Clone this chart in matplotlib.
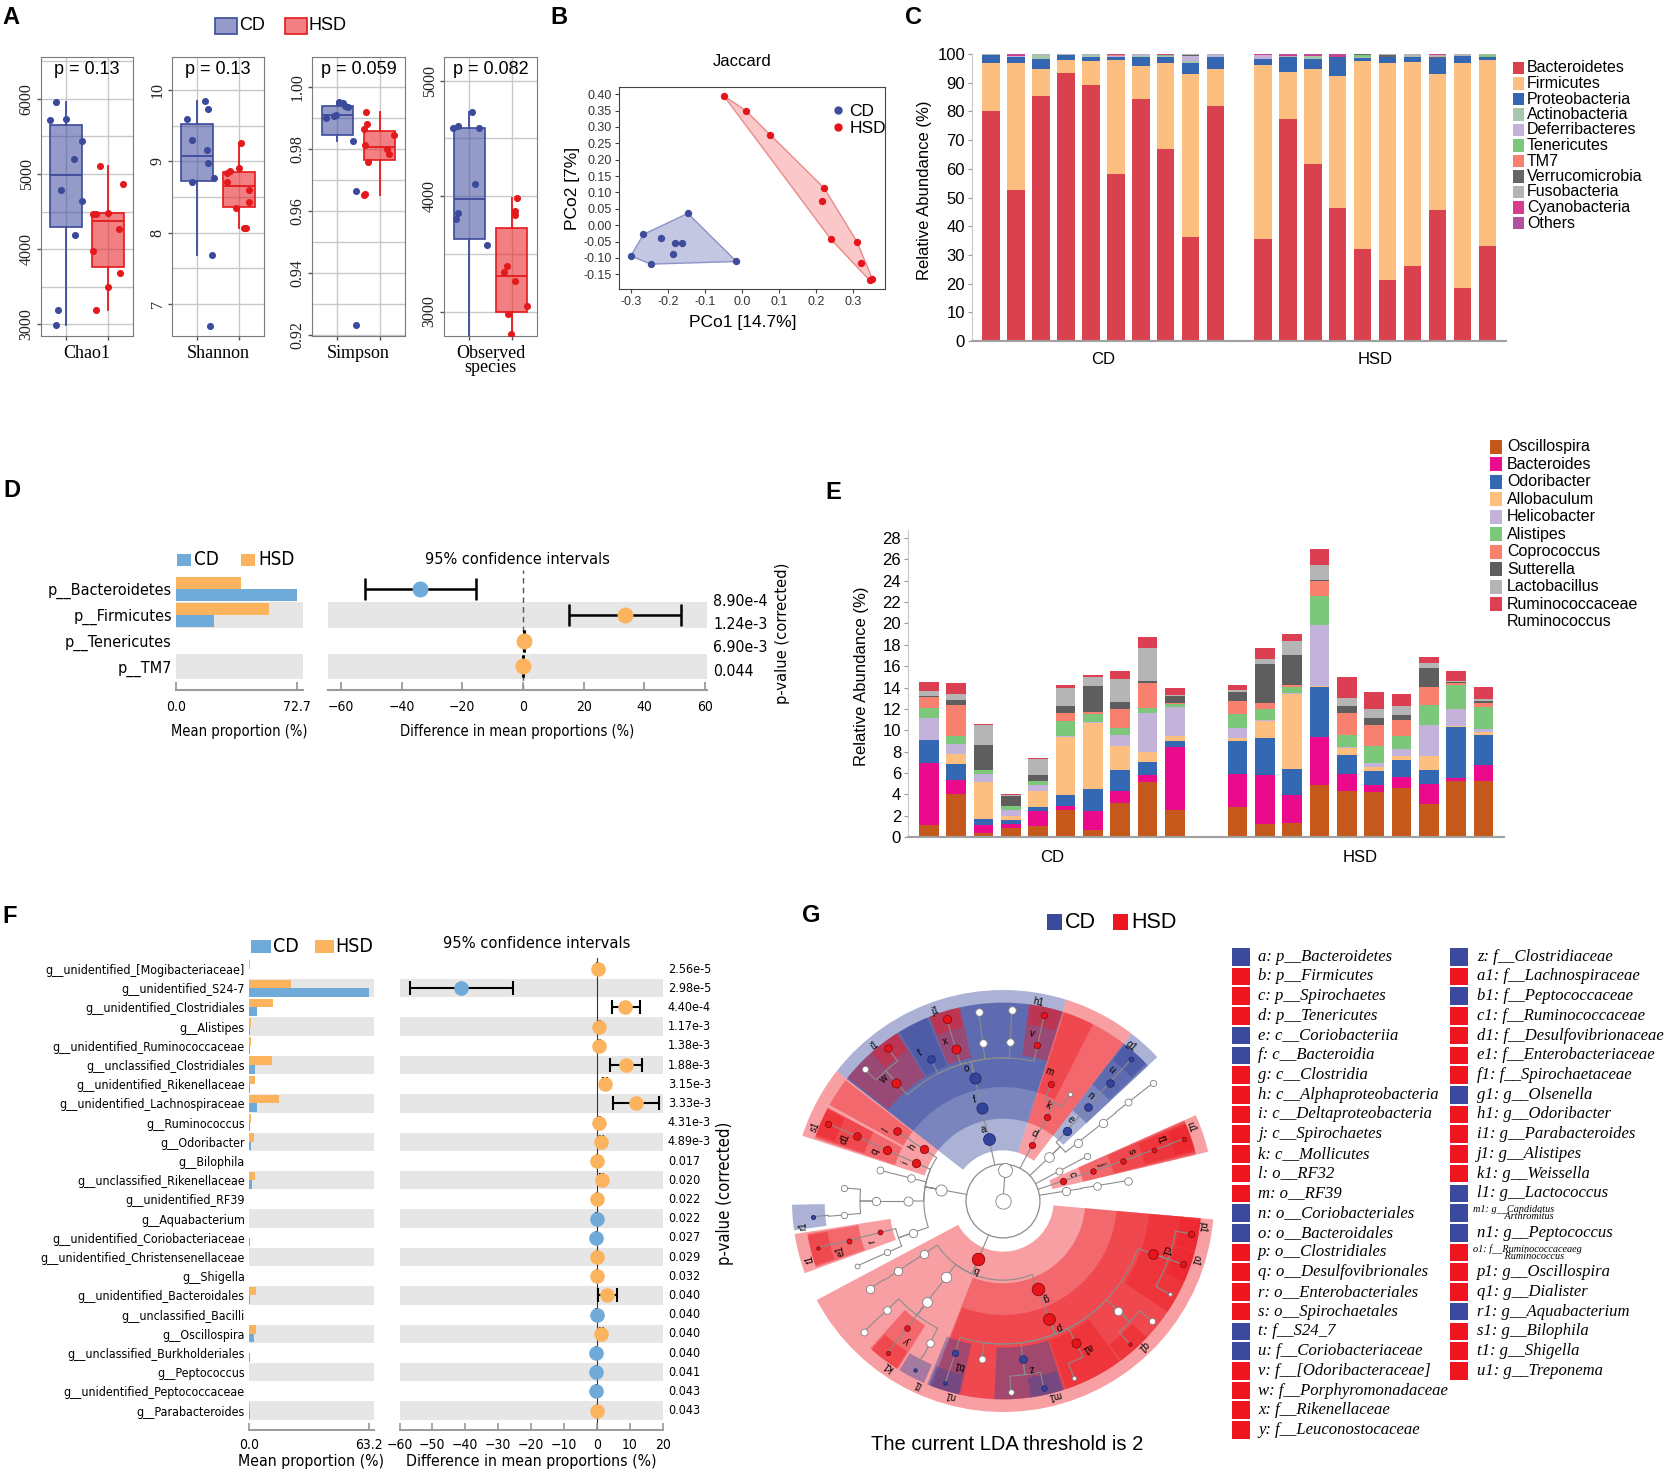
import numpy as np
import matplotlib
matplotlib.use('Agg')
import matplotlib.pyplot as plt
from matplotlib.patches import Rectangle, Wedge, Circle, Polygon
from matplotlib.lines import Line2D
from matplotlib.ticker import MultipleLocator, FuncFormatter
from matplotlib.transforms import blended_transform_factory
from matplotlib.colors import to_rgba
from matplotlib import font_manager as fm

plt.rcParams['axes.unicode_minus'] = False

# ---------------------------------------------------------------- data
# A: alpha diversity
alpha_metrics = ['Chao1', 'Shannon', 'Simpson', 'Observed\nspecies']
alpha_pvalues = ['p = 0.13', 'p = 0.13', 'p = 0.059', 'p = 0.082']
chao1_cd = [5723, 5964, 5732, 5442, 5196, 4786, 4647, 4183, 3188, 2987]
chao1_cd_jit = [-0.39, -0.24, 0.0, 0.39, 0.20, -0.11, 0.39, 0.22, -0.19, -0.24]
chao1_hsd = [4473, 4473, 4482, 5107, 4862, 4268, 3969, 3688, 3491, 3196]
chao1_hsd_jit = [-0.35, -0.28, 0.0, -0.19, 0.35, 0.26, -0.35, 0.29, 0.0, -0.28]
shannon_cd = [9.59, 9.84, 9.73, 9.30, 9.16, 8.98, 8.76, 8.71, 7.69, 6.69]
shannon_cd_jit = [-0.24, 0.19, 0.26, -0.11, 0.23, 0.26, 0.41, -0.11, 0.35, 0.32]
shannon_hsd = [8.84, 8.71, 8.86, 8.90, 9.25, 8.59, 8.43, 8.34, 8.06, 8.06]
shannon_hsd_jit = [-0.29, -0.29, -0.22, 0.0, 0.06, 0.23, 0.23, -0.06, 0.11, 0.17]
simpson_cd = [0.9953, 0.9948, 0.9940, 0.9935, 0.9912, 0.9906, 0.9902, 0.9827, 0.9664, 0.9230]
simpson_cd_jit = [0.04, 0.13, 0.19, 0.24, -0.04, -0.09, -0.28, 0.37, 0.43, 0.43]
simpson_hsd = [0.9919, 0.9881, 0.9864, 0.9845, 0.9815, 0.9800, 0.9785, 0.9758, 0.9655, 0.9652]
simpson_hsd_jit = [-0.33, -0.30, -0.37, 0.33, -0.35, 0.17, 0.23, -0.28, -0.35, -0.37]
observed_cd = [4594, 4604, 4727, 4594, 4101, 3856, 3802, 3576, 2662, 2327]
observed_cd_jit = [-0.39, -0.26, 0.07, 0.22, 0.13, -0.28, -0.32, 0.41, -0.32, 0.30]
observed_hsd = [3982, 3874, 3838, 3396, 3345, 3263, 3047, 2975, 2802, 2561]
observed_hsd_jit = [0.13, 0.09, 0.09, -0.12, -0.19, 0.09, 0.36, -0.09, -0.02, 0.37]

# B: PCoA (Jaccard)
pcoa_cd_x = [-0.300, -0.266, -0.246, -0.218, -0.186, -0.180, -0.163, -0.146, -0.015]
pcoa_cd_y = [-0.094, -0.028, -0.119, -0.039, -0.088, -0.055, -0.056, 0.036, -0.111]
pcoa_hsd_x = [-0.049, 0.010, 0.075, 0.222, 0.215, 0.240, 0.310, 0.320, 0.345, 0.352]
pcoa_hsd_y = [0.395, 0.350, 0.275, 0.113, 0.074, -0.043, -0.050, -0.117, -0.169, -0.165]

# C: phylum relative abundance (10 CD samples, then 10 HSD samples)
phyla_names = ['Bacteroidetes', 'Firmicutes', 'Proteobacteria', 'Actinobacteria', 'Deferribacteres',
               'Tenericutes', 'TM7', 'Verrucomicrobia', 'Fusobacteria', 'Cyanobacteria', 'Others']
c_bacteroidetes = [80.2, 52.5, 85.4, 93.4, 89.3, 58.2, 84.4, 66.9, 36.1, 81.8,
                   35.4, 77.2, 61.7, 46.2, 31.9, 21.2, 26.2, 45.7, 18.3, 33.1]
c_firmicutes = [16.7, 44.4, 9.4, 4.6, 8.3, 39.8, 11.5, 30.0, 57.0, 13.1,
                60.6, 16.7, 33.2, 46.3, 65.5, 75.8, 71.1, 47.5, 78.4, 64.8]
c_proteobacteria = [2.6, 1.9, 3.5, 1.5, 1.4, 1.0, 3.1, 2.1, 3.8, 3.9,
                    2.4, 5.2, 3.5, 6.6, 1.1, 2.1, 1.7, 5.5, 2.6, 1.1]
c_actinobacteria = [0.3, 0.3, 1.2, 0.3, 0.6, 0.0, 0.3, 0.2, 0.6, 0.0,
                    0.0, 0.0, 1.0, 0.0, 0.6, 0.0, 0.0, 0.0, 0.0, 0.0]
c_deferribacteres = [0.0, 0.2, 0.3, 0.0, 0.2, 0.3, 0.5, 0.0, 1.9, 0.8,
                     1.3, 0.0, 0.0, 0.0, 0.0, 0.0, 0.0, 0.0, 0.0, 0.0]
c_tenericutes = [0, 0, 0, 0, 0, 0, 0, 0.4, 0, 0, 0, 0, 0, 0, 0.5, 0, 0, 0, 0, 0.5]
c_tm7 = [0, 0, 0, 0, 0, 0.3, 0, 0, 0, 0, 0, 0, 0, 0, 0, 0, 0, 0, 0, 0]
c_verrucomicrobia = [0, 0, 0, 0, 0, 0, 0, 0, 0.4, 0, 0, 0, 0, 0, 0.4, 0.4, 0, 0.3, 0, 0]
c_fusobacteria = [0.2, 0, 0.2, 0.2, 0.2, 0, 0.2, 0, 0.2, 0.3, 0, 0.3, 0, 0, 0, 0.5, 1.0, 0.6, 0.7, 0.5]
c_cyanobacteria = [0, 0.5, 0, 0, 0, 0.2, 0, 0.3, 0, 0, 0.3, 0.4, 0.3, 0.5, 0, 0, 0, 0.4, 0, 0]
c_others = [0, 0.2, 0, 0, 0, 0.2, 0, 0.1, 0, 0.1, 0, 0.2, 0.3, 0.4, 0, 0, 0, 0, 0, 0]
phyla_colors = ['#D9414E', '#FDBF80', '#3566B1', '#A8C5AE', '#C3B3DA', '#7CC77A',
                '#F8806E', '#666666', '#B3B3B3', '#D73C8C', '#B4519E']

# E: genus relative abundance
genus_names = ['Oscillospira', 'Bacteroides', 'Odoribacter', 'Allobaculum', 'Helicobacter', 'Alistipes',
               'Coprococcus', 'Sutterella', 'Lactobacillus', 'Ruminococcaceae\nRuminococcus']
e_oscillospira = [1.15, 4.06, 0.37, 0.84, 1.06, 2.50, 0.69, 3.18, 5.12, 2.50,
                  2.78, 1.25, 1.31, 4.87, 4.34, 4.24, 4.59, 3.12, 5.21, 5.21]
e_bacteroides = [5.78, 1.31, 0.78, 0.41, 1.41, 0.43, 1.71, 1.10, 0.65, 5.93,
                 3.15, 4.56, 2.59, 4.46, 1.56, 0.60, 1.00, 1.87, 0.31, 1.56]
e_odoribacter = [2.12, 1.50, 0.57, 0.37, 0.31, 1.03, 2.09, 2.02, 1.25, 0.59,
                 3.09, 3.46, 2.50, 4.68, 1.75, 1.37, 1.65, 1.25, 4.78, 2.75]
e_allobaculum = [0.05, 0.87, 3.43, 0.38, 1.50, 5.40, 6.18, 2.25, 0.97, 0.47,
                 0.25, 1.56, 7.02, 0.16, 0.68, 0.31, 0.31, 1.31, 0.06, 0.31]
e_helicobacter = [2.09, 1.00, 0.78, 0.56, 0.62, 0.07, 0.07, 1.03, 3.62, 2.68,
                  0.94, 0.16, 0.06, 5.65, 0.10, 0.41, 0.69, 2.97, 1.66, 0.28]
e_alistipes = [0.91, 0.75, 0.31, 0.31, 0.31, 1.40, 0.81, 0.59, 0.50, 0.31,
               1.34, 1.03, 0.53, 2.78, 1.15, 1.62, 1.25, 1.87, 2.18, 2.06]
e_coprococcus = [1.00, 2.84, 0.06, 0.06, 0.06, 0.78, 0.19, 1.82, 2.31, 0.07,
                 1.15, 0.53, 0.25, 1.34, 2.03, 1.94, 1.50, 1.65, 0.22, 0.38]
e_sutterella = [0.12, 0.47, 2.35, 0.94, 0.57, 0.69, 2.37, 0.62, 0.19, 0.62,
                0.85, 3.65, 2.81, 0.16, 0.69, 0.65, 0.46, 1.78, 0.06, 0.15]
e_lactobacillus = [0.50, 0.62, 1.81, 0.09, 1.46, 1.65, 0.87, 2.18, 3.09, 0.13,
                   0.18, 0.47, 1.25, 1.34, 0.68, 0.85, 0.78, 0.47, 0.10, 0.22]
e_ruminococcus = [0.84, 1.00, 0.15, 0.04, 0.10, 0.31, 0.16, 0.78, 1.03, 0.65,
                  0.53, 1.00, 0.66, 1.56, 1.97, 1.62, 1.16, 0.56, 0.93, 1.12]
genus_colors = ['#C5581B', '#EC0A8C', '#3568B3', '#FDBF80', '#C3B3DA', '#7CC77A',
                '#F8806E', '#5E5E5E', '#B5B5B5', '#DC3F52']

# D: phylum-level STAMP
d_taxa = ['p__Bacteroidetes', 'p__Firmicutes', 'p__Tenericutes', 'p__TM7']
d_cd_mean = [72.7, 23.2, 0.1, 0.02]
d_hsd_mean = [39.3, 56.3, 0.3, 0.1]
d_diff = [-34.0, 33.5, 0.3, 0.1]
d_ci_low = [-52.0, 15.3, 0.3, 0.1]
d_ci_high = [-15.5, 52.0, 0.3, 0.1]
d_pvalues = ['8.90e-4', '1.24e-3', '6.90e-3', '0.044']

# F: genus-level STAMP
f_taxa = ['g__unidentified_[Mogibacteriaceae]', 'g__unidentified_S24-7', 'g__unidentified_Clostridiales',
          'g__Alistipes', 'g__unidentified_Ruminococcaceae', 'g__unclassified_Clostridiales',
          'g__unidentified_Rikenellaceae', 'g__unidentified_Lachnospiraceae', 'g__Ruminococcus',
          'g__Odoribacter', 'g__Bilophila', 'g__unclassified_Rikenellaceae', 'g__unidentified_RF39',
          'g__Aquabacterium', 'g__unidentified_Coriobacteriaceae', 'g__unidentified_Christensenellaceae',
          'g__Shigella', 'g__unidentified_Bacteroidales', 'g__unclassified_Bacilli', 'g__Oscillospira',
          'g__unclassified_Burkholderiales', 'g__Peptococcus', 'g__unidentified_Peptococcaceae',
          'g__Parabacteroides']
f_cd_mean = [0.1, 63.2, 4.0, 0.5, 0.5, 3.2, 0.7, 4.0, 0.3, 1.2, 0.05, 1.5, 0.1, 0.05, 0.4, 0.1,
             0.02, 0.3, 0.1, 2.5, 0.3, 0.1, 0.1, 0.4]
f_hsd_mean = [0.5, 22.0, 12.7, 1.2, 1.1, 12.0, 3.2, 16.0, 0.9, 2.6, 0.2, 3.0, 0.2, 0.0, 0.1, 0.2,
              0.1, 3.5, 0.05, 3.8, 0.05, 0.02, 0.05, 0.5]
f_diff = [0.3, -41.3, 8.6, 0.7, 0.6, 8.9, 2.5, 11.8, 0.6, 1.4, 0.1, 1.5, 0.1, -0.05, -0.2, 0.1,
          0.1, 3.2, -0.05, 1.4, -0.2, -0.1, -0.1, 0.1]
f_ci_low = [0.1, -56.8, 4.6, 0.4, 0.3, 4.0, 2.0, 5.0, 0.3, 1.0, 0.05, 1.0, 0.05, -0.1, -0.3, 0.05,
            0.05, 0.3, -0.1, 0.9, -0.3, -0.15, -0.15, 0.05]
f_ci_high = [0.5, -25.6, 13.0, 1.0, 0.9, 13.7, 3.0, 19.0, 0.9, 1.8, 0.15, 2.0, 0.15, 0.0, -0.1, 0.15,
             0.15, 6.0, 0.0, 1.9, -0.1, -0.05, -0.05, 0.15]
f_pvalues = ['2.56e-5', '2.98e-5', '4.40e-4', '1.17e-3', '1.38e-3', '1.88e-3', '3.15e-3', '3.33e-3',
             '4.31e-3', '4.89e-3', '0.017', '0.020', '0.022', '0.022', '0.027', '0.029', '0.032',
             '0.040', '0.040', '0.040', '0.040', '0.041', '0.043', '0.043']

# G: LEfSe cladogram  (id, parent, level, angle_deg, enriched_group, letter, node_size)
clade_nodes = [
    ('root', None, 0, 90.0, None, '', 11),
    ('bacteria', 'root', 0.5, 86.0, None, '', 10),
    ('a', 'root', 1, 102.8, 'CD', 'a', 8.5), ('d', 'root', 1, 62.5, 'HSD', 'd', 4.5),
    ('act', 'root', 1, 43.5, None, '', 7), ('px', 'root', 1, 28.0, None, '', 5),
    ('c', 'root', 1, 18.5, 'HSD', 'c', 4.5), ('verr', 'root', 1, 9.0, None, '', 6),
    ('prot', 'root', 1, 169.7, None, '', 8), ('b', 'root', 1, 247.0, 'HSD', 'b', 9),
    ('f', 'a', 2, 103.0, 'CD', 'f', 8), ('k', 'd', 2, 62.4, 'HSD', 'k', 4.5),
    ('e', 'act', 2, 47.8, 'CD', 'e', 6), ('act2', 'act', 2, 38.0, None, '', 6),
    ('px2', 'px', 2, 28.0, None, '', 4.5), ('j', 'c', 2, 18.5, 'HSD', 'j', 4),
    ('verr2', 'verr', 2, 9.3, None, '', 5.5), ('h', 'prot', 2, 146.8, 'HSD', 'h', 6),
    ('i', 'prot', 2, 156.4, 'HSD', 'i', 6), ('prot3', 'prot', 2, 166.0, None, '', 5.5),
    ('beta', 'prot', 2, 180.0, None, '', 6.5), ('gamma', 'prot', 2, 199.4, None, '', 6),
    ('erys', 'b', 2, 213.8, None, '', 6), ('bacilli', 'b', 2, 233.2, None, '', 7.5),
    ('g', 'b', 2, 291.6, 'HSD', 'g', 9),
    ('o', 'f', 3, 102.9, 'CD', 'o', 8), ('m', 'k', 3, 67.6, 'HSD', 'm', 4.5),
    ('mol2', 'k', 3, 58.0, None, '', 3), ('n', 'e', 3, 48.0, 'CD', 'n', 5.5),
    ('act3', 'act2', 3, 38.0, None, '', 6), ('s', 'j', 3, 18.5, 'HSD', 's', 4),
    ('verr3', 'verr2', 3, 9.3, None, '', 5.5), ('l', 'h', 3, 146.5, 'HSD', 'l', 5.5),
    ('q', 'i', 3, 156.4, 'HSD', 'q', 6), ('prot4', 'prot3', 3, 166.0, None, '', 5),
    ('burk', 'beta', 3, 180.0, None, '', 6), ('r', 'gamma', 3, 194.4, 'HSD', 'r', 3.5),
    ('pseu', 'gamma', 3, 204.0, None, '', 4.5), ('erys3', 'erys', 3, 213.7, None, '', 6),
    ('lacto', 'bacilli', 3, 233.0, None, '', 7), ('p', 'g', 3, 291.5, 'HSD', 'p', 8.5),
    ('w', 'o', 4, 132.0, 'HSD', 'w', 6.5), ('t', 'o', 4, 117.0, 'CD', 't', 5.5),
    ('x', 'o', 4, 107.2, 'HSD', 'x', 6.5), ('bf4', 'o', 4, 97.3, None, '', 5.5),
    ('bf5', 'o', 4, 87.4, None, '', 5.5), ('v', 'o', 4, 77.5, 'HSD', 'v', 4.5),
    ('u', 'n', 4, 48.0, 'CD', 'u', 5.5), ('act4', 'act3', 4, 38.2, None, '', 5),
    ('f1', 's', 4, 18.7, 'HSD', 'f1', 3.5), ('d1', 'q', 4, 156.1, 'HSD', 'd1', 5.5),
    ('alc', 'burk', 4, 175.3, None, '', 4.5), ('coma', 'burk', 4, 185.0, None, '', 4.5),
    ('e1', 'r', 4, 194.4, 'HSD', 'e1', 3.5), ('pse4', 'pseu', 4, 204.0, None, '', 3.5),
    ('erys4', 'erys3', 4, 213.4, None, '', 6), ('lactob', 'lacto', 4, 223.2, None, '', 5.5),
    ('y', 'lacto', 4, 232.9, 'HSD', 'y', 4), ('strep', 'lacto', 4, 242.8, None, '', 5.5),
    ('b1', 'p', 4, 252.5, 'CD', 'b1', 4.5), ('clo2', 'p', 4, 262.4, None, '', 5),
    ('z', 'p', 4, 277.2, 'CD', 'z', 5.5), ('a1', 'p', 4, 297.2, 'HSD', 'a1', 6.5),
    ('veil', 'p', 4, 316.4, None, '', 6), ('c1', 'p', 4, 340.6, 'HSD', 'c1', 7),
    ('i1', 'w', 5, 127.0, 'HSD', 'i1', 5.5), ('w2', 'w', 5, 136.4, None, '', 4.5),
    ('j1', 'x', 5, 107.2, 'HSD', 'j1', 6), ('bg4', 'bf4', 5, 97.3, None, '', 5.5),
    ('bg5', 'bf5', 5, 87.4, None, '', 5.5), ('h1', 'v', 5, 77.5, 'HSD', 'h1', 4.5),
    ('g1', 'u', 5, 47.9, 'CD', 'g1', 3.5), ('act5', 'act4', 5, 38.2, None, '', 4.5),
    ('u1', 'f1', 5, 18.9, 'HSD', 'u1', 3), ('s1', 'd1', 5, 156.1, 'HSD', 's1', 4.5),
    ('r1', 'coma', 5, 184.7, 'CD', 'r1', 3), ('t1', 'e1', 5, 194.1, 'HSD', 't1', 2.5),
    ('lactg', 'lactob', 5, 223.2, None, '', 5), ('k1', 'y', 5, 232.8, 'HSD', 'k1', 3),
    ('l1', 'strep', 5, 242.5, 'CD', 'l1', 2.5), ('n1', 'b1', 5, 252.4, 'CD', 'n1', 2.5),
    ('z2', 'z', 5, 272.3, None, '', 4), ('m1', 'z', 5, 282.3, 'CD', 'm1', 4),
    ('a1g', 'a1', 5, 291.9, None, '', 3), ('q1', 'veil', 5, 311.5, 'HSD', 'q1', 2.5),
    ('veil2', 'veil', 5, 321.2, None, '', 4.5), ('c1w', 'c1', 5, 330.8, None, '', 2.5),
    ('o1', 'c1', 5, 340.6, 'HSD', 'o1', 4.5), ('p1', 'c1', 5, 350.1, 'HSD', 'p1', 4.5),
]
clade_spans = {
    'a': (72.5, 142), 'f': (72.5, 142), 'o': (72.5, 142),
    'w': (122, 141.5), 't': (112.5, 121.5), 'x': (102.5, 112), 'v': (72.5, 82.5),
    'i1': (122.5, 131.5), 'j1': (103, 111.5), 'h1': (73, 82),
    'd': (52.5, 72.5), 'k': (52.5, 72.5), 'm': (63, 72),
    'e': (43, 52.5), 'n': (43, 52.5), 'u': (43.5, 52.5), 'g1': (44, 52),
    'c': (13.5, 24), 'j': (13.5, 24), 's': (14, 23.5), 'f1': (14.5, 23), 'u1': (15, 22.5),
    'h': (142, 151.5), 'l': (142.5, 151),
    'i': (151.5, 162), 'q': (152, 161.5), 'd1': (152, 161), 's1': (152.5, 160.5),
    'r': (189, 200), 'e1': (189.5, 199.5), 't1': (190, 199), 'r1': (181, 188),
    'b': (208, 355), 'g': (248.5, 355), 'p': (249, 355),
    'y': (228, 238), 'k1': (228.5, 237.5), 'l1': (238.5, 246.5),
    'b1': (247.5, 257.5), 'n1': (248, 257), 'z': (267.5, 288), 'm1': (278, 287.5),
    'a1': (288.5, 306), 'q1': (306.5, 316.5),
    'c1': (326, 355), 'o1': (336, 345), 'p1': (345.5, 354.5),
}
lefse_col1 = ['a: p__Bacteroidetes', 'b: p__Firmicutes', 'c: p__Spirochaetes', 'd: p__Tenericutes',
              'e: c__Coriobacteriia', 'f: c__Bacteroidia', 'g: c__Clostridia', 'h: c__Alphaproteobacteria',
              'i: c__Deltaproteobacteria', 'j: c__Spirochaetes', 'k: c__Mollicutes', 'l: o__RF32',
              'm: o__RF39', 'n: o__Coriobacteriales', 'o: o__Bacteroidales', 'p: o__Clostridiales',
              'q: o__Desulfovibrionales', 'r: o__Enterobacteriales', 's: o__Spirochaetales', 't: f__S24_7',
              'u: f__Coriobacteriaceae', 'v: f__[Odoribacteraceae]', 'w: f__Porphyromonadaceae',
              'x: f__Rikenellaceae', 'y: f__Leuconostocaceae']
lefse_col1_group = ['CD', 'HSD', 'HSD', 'HSD', 'CD', 'CD', 'HSD', 'HSD', 'HSD', 'HSD', 'HSD', 'HSD', 'HSD',
                    'CD', 'CD', 'HSD', 'HSD', 'HSD', 'HSD', 'CD', 'CD', 'HSD', 'HSD', 'HSD', 'HSD']
lefse_col2 = ['z: f__Clostridiaceae', 'a1: f__Lachnospiraceae', 'b1: f__Peptococcaceae',
              'c1: f__Ruminococcaceae', 'd1: f__Desulfovibrionaceae', 'e1: f__Enterobacteriaceae',
              'f1: f__Spirochaetaceae', 'g1: g__Olsenella', 'h1: g__Odoribacter', 'i1: g__Parabacteroides',
              'j1: g__Alistipes', 'k1: g__Weissella', 'l1: g__Lactococcus', 'm1: g__Candidatus\nArthromitus',
              'n1: g__Peptococcus', 'o1: f__Ruminococcaceaeg\nRuminococcus', 'p1: g__Oscillospira',
              'q1: g__Dialister', 'r1: g__Aquabacterium', 's1: g__Bilophila', 't1: g__Shigella',
              'u1: g__Treponema']
lefse_col2_group = ['CD', 'HSD', 'CD', 'HSD', 'HSD', 'HSD', 'HSD', 'CD', 'HSD', 'HSD', 'HSD', 'HSD', 'CD',
                    'CD', 'CD', 'HSD', 'HSD', 'HSD', 'CD', 'HSD', 'HSD', 'HSD']

# ---------------------------------------------------------------- setup
W, H = 1666, 1477
fig = plt.figure(figsize=(W / 100, H / 100), dpi=100)
fig.patch.set_facecolor('white')

SANS = 'Liberation Sans'
SERIF = 'Liberation Serif'
_ttf = fm.fontManager.ttflist
if any(f.name == 'DejaVu Sans' and str(f.stretch) == 'condensed' for f in _ttf):
    COND_FAMILY, COND_STRETCH = 'DejaVu Sans', 'condensed'
elif any(f.name == 'Liberation Sans Narrow' for f in _ttf):
    COND_FAMILY, COND_STRETCH = 'Liberation Sans Narrow', 'normal'
else:
    COND_FAMILY, COND_STRETCH = 'DejaVu Sans', 'normal'


def cfp(size):
    return fm.FontProperties(family=COND_FAMILY, stretch=COND_STRETCH, size=size)


def ax_px(x0, y0, x1, y1):
    return fig.add_axes([x0 / W, 1 - y1 / H, (x1 - x0) / W, (y1 - y0) / H])


def ftext(x, y, s, **kw):
    return fig.text(x / W, 1 - y / H, s, **kw)


def frect(x0, y0, x1, y1, fc, ec='none', lw=0):
    fig.add_artist(Rectangle((x0 / W, 1 - y1 / H), (x1 - x0) / W, (y1 - y0) / H,
                             transform=fig.transFigure, facecolor=fc, edgecolor=ec, linewidth=lw))


for lab, (lx, ly) in zip('ABCDEFG', [(2, 6), (550, 6), (905, 6), (3, 479), (825, 481), (2, 905), (802, 904)]):
    ftext(lx, ly, lab, fontsize=17, fontweight='bold', family=SANS, va='top', ha='left')

# ---------------------------------------------------------------- A
CD_DARK, HSD_DARK = '#3C4A9C', '#E3191C'
CD_FILL, HSD_FILL = to_rgba('#3C4A9C', 0.55), to_rgba('#E8191E', 0.55)
a_sets = [(chao1_cd, chao1_cd_jit, chao1_hsd, chao1_hsd_jit),
          (shannon_cd, shannon_cd_jit, shannon_hsd, shannon_hsd_jit),
          (simpson_cd, simpson_cd_jit, simpson_hsd, simpson_hsd_jit),
          (observed_cd, observed_cd_jit, observed_hsd, observed_hsd_jit)]
a_x = [(41, 133), (172, 264), (312, 405), (444, 537)]
a_ylim = [(2844, 6558), (6.55, 10.46), (0.9196, 1.0098), (2788, 5205)]
a_major = [1000, 1, 0.02, 1000]
a_fmt = ['{:.0f}', '{:.0f}', '{:.2f}', '{:.0f}']
for k in range(4):
    ax = ax_px(a_x[k][0], 57, a_x[k][1], 336)
    cd, cdj, hs, hsj = a_sets[k]
    for pos, vals, jit, dark, fill in [(1, cd, cdj, CD_DARK, CD_FILL), (2, hs, hsj, HSD_DARK, HSD_FILL)]:
        ax.boxplot([vals], positions=[pos], widths=0.75, patch_artist=True, showfliers=False,
                   showcaps=False, whis=1.5, manage_ticks=False, zorder=2,
                   boxprops=dict(facecolor=fill, edgecolor=dark, linewidth=1.2),
                   whiskerprops=dict(color=dark, linewidth=1.3),
                   medianprops=dict(color=dark, linewidth=1.3))
        ax.scatter(pos + np.array(jit), vals, s=26, color=dark, zorder=3, linewidths=0)
    ax.set_xlim(0.4, 2.6)
    ax.set_ylim(*a_ylim[k])
    ax.yaxis.set_major_locator(MultipleLocator(a_major[k]))
    ax.yaxis.set_minor_locator(MultipleLocator(a_major[k] / 2))
    ax.set_xticks([1, 2])
    ax.set_xticklabels(['', ''])
    ax.set_axisbelow(True)
    ax.grid(True, which='both', axis='y', color='#C8C8C8', lw=1.0)
    ax.grid(True, which='major', axis='x', color='#C8C8C8', lw=1.0)
    ax.yaxis.set_major_formatter(FuncFormatter(lambda v, p, f=a_fmt[k]: f.format(v)))
    ax.tick_params(axis='both', which='major', length=3, color='#555555', width=1)
    ax.tick_params(axis='y', which='minor', length=0)
    ax.tick_params(axis='y', labelsize=11.5, pad=1.5, labelcolor='#222222')
    for lb in ax.get_yticklabels():
        lb.set_family(SERIF)
        lb.set_rotation(90)
        lb.set_va('center')
    for sp in ax.spines.values():
        sp.set_color('#7A7A7A')
    ax.set_xlabel(alpha_metrics[k], family=SERIF, fontsize=13, labelpad=0, linespacing=0.8)
    ax.text(0.5, 0.955, alpha_pvalues[k], transform=ax.transAxes, ha='center', va='center',
            fontsize=13, family=SANS)
frect(215, 18.5, 236.5, 33.5, CD_FILL, ec=CD_DARK, lw=1.2)
ftext(239, 26, 'CD', fontsize=13, family=SANS, va='center')
frect(285, 18.5, 306.5, 33.5, HSD_FILL, ec=HSD_DARK, lw=1.2)
ftext(309, 26, 'HSD', fontsize=13, family=SANS, va='center')

# ---------------------------------------------------------------- B


def convex_hull(points):
    pts = sorted(set(points))

    def cross(o, a, b):
        return (a[0] - o[0]) * (b[1] - o[1]) - (a[1] - o[1]) * (b[0] - o[0])
    lower, upper = [], []
    for p in pts:
        while len(lower) >= 2 and cross(lower[-2], lower[-1], p) <= 0:
            lower.pop()
        lower.append(p)
    for p in reversed(pts):
        while len(upper) >= 2 and cross(upper[-2], upper[-1], p) <= 0:
            upper.pop()
        upper.append(p)
    return lower[:-1] + upper[:-1]


b_ax = ax_px(619, 87, 885, 289)
for xs, ys, col, fill, edge in [(pcoa_cd_x, pcoa_cd_y, '#3F4C9A', to_rgba('#5560AA', 0.35), '#8D93C6'),
                                (pcoa_hsd_x, pcoa_hsd_y, '#E5141B', to_rgba('#EE3A3A', 0.28), '#E98A8A')]:
    b_ax.add_patch(Polygon(convex_hull(list(zip(xs, ys))), closed=True, facecolor=fill,
                           edgecolor=edge, lw=1.0, zorder=1))
    b_ax.scatter(xs, ys, s=28, color=col, zorder=3, linewidths=0)
b_ax.set_xlim(-0.332, 0.386)
b_ax.set_ylim(-0.195, 0.422)
b_ax.set_xticks(np.round(np.arange(-0.3, 0.31, 0.1), 2))
b_ax.set_xticklabels(['%.1f' % v for v in np.round(np.arange(-0.3, 0.31, 0.1), 2)])
b_ax.set_yticks(np.round(np.arange(-0.15, 0.401, 0.05), 2))
b_ax.set_yticklabels(['%.2f' % v for v in np.round(np.arange(-0.15, 0.401, 0.05), 2)])
b_ax.tick_params(labelsize=9, length=3, color='#444444', labelcolor='#333333', pad=2)
for t in b_ax.get_xticklabels() + b_ax.get_yticklabels():
    t.set_family(SANS)
for sp in b_ax.spines.values():
    sp.set_color('#444444')
b_ax.legend(handles=[Line2D([], [], marker='o', ls='', color='#3F4C9A', ms=5),
                     Line2D([], [], marker='o', ls='', color='#E5141B', ms=5)],
            labels=['CD', 'HSD'], loc='upper left', bbox_to_anchor=(0.745, 0.975), frameon=False,
            prop=fm.FontProperties(family=SANS, size=12.5), handletextpad=0.15, labelspacing=0.1,
            borderpad=0.2, handlelength=1.0)
ftext(742, 62, 'Jaccard', fontsize=12, family=SANS, ha='center', va='center')
ftext(743, 323, 'PCo1 [14.7%]', fontsize=12.5, family=SANS, ha='center', va='center')
ftext(572, 188, 'PCo2 [7%]', fontsize=12.5, family=SANS, ha='center', va='center', rotation=90)

# ---------------------------------------------------------------- C
c_ax = ax_px(972, 54, 1506, 341)
c_pos = np.concatenate([np.arange(10), np.arange(10) + 10.9])
c_values = [c_bacteroidetes, c_firmicutes, c_proteobacteria, c_actinobacteria, c_deferribacteres,
            c_tenericutes, c_tm7, c_verrucomicrobia, c_fusobacteria, c_cyanobacteria, c_others]
bottom = np.zeros(20)
for vals, col in zip(c_values, phyla_colors):
    c_ax.bar(c_pos, vals, width=0.7, bottom=bottom, color=col, lw=0, zorder=2)
    bottom += np.array(vals)
c_ax.set_xlim(-0.77, 19.9 + 0.75)
c_ax.set_ylim(0, 100)
c_ax.set_yticks(np.arange(0, 101, 10))
c_ax.set_xticks([4.5, 15.4])
c_ax.set_xticklabels(['CD', 'HSD'])
c_ax.tick_params(axis='x', length=0, pad=8, labelsize=12)
c_ax.tick_params(axis='y', length=3, color='#999999', labelsize=12, pad=2)
for t in c_ax.get_xticklabels() + c_ax.get_yticklabels():
    t.set_family(SANS)
for sp in ['top', 'right']:
    c_ax.spines[sp].set_visible(False)
c_ax.spines['bottom'].set_color('#A0A0A0')
c_ax.spines['bottom'].set_linewidth(1.5)
c_ax.spines['left'].set_color('#C8C8C8')
c_ax.spines['left'].set_linewidth(0.8)
ftext(924, 190, 'Relative Abundance (%)', fontsize=12, family=SANS, ha='center', va='center', rotation=90)
for i, (nm, col) in enumerate(zip(phyla_names, phyla_colors)):
    yc = 68 + i * 15.5
    frect(1513, yc - 6, 1524, yc + 6, col)
    ftext(1527, yc, nm, fontsize=11.5, family=SANS, va='center')

# ---------------------------------------------------------------- D
CD_BLUE, HSD_OR = '#6FAAD8', '#FCB35E'
d_left = ax_px(176, 570, 302.5, 690)
d_right = ax_px(328, 570, 706.7, 690)
d_rows = np.arange(len(d_taxa))
for axx in (d_left, d_right):
    axx.set_ylim(3.92, -0.75)
    for i in d_rows:
        if i % 2 == 1:
            axx.axhspan(i - 0.49, i + 0.49, color='#E6E6E6', zorder=0, lw=0)
    for sp in ['top', 'right', 'left']:
        axx.spines[sp].set_visible(False)
    axx.spines['bottom'].set_color('#9A9A9A')
    axx.spines['bottom'].set_linewidth(1.5)
    axx.tick_params(axis='x', direction='in', length=6, color='#9A9A9A', width=1.3, pad=7)
d_left.barh(d_rows - 0.235, d_hsd_mean, height=0.47, color=HSD_OR, zorder=2)
d_left.barh(d_rows + 0.235, d_cd_mean, height=0.47, color=CD_BLUE, zorder=2)
d_left.set_xlim(0, 76.3)
d_left.set_xticks([0, 72.7])
d_left.set_xticklabels(['0.0', '72.7'])
d_left.set_yticks(d_rows)
d_left.set_yticklabels(d_taxa)
d_left.tick_params(axis='y', length=0, pad=3)
for t in d_left.get_yticklabels():
    t.set_fontproperties(cfp(11.6))
for t in d_left.get_xticklabels():
    t.set_fontproperties(cfp(10))
d_right.set_xlim(-64.3, 60.56)
d_right.set_yticks([])
d_right.axvline(0, color='#555555', lw=1.0, ls=(0, (4, 3)), zorder=1)
for i in d_rows:
    col = CD_BLUE if d_diff[i] < 0 else HSD_OR
    d_right.errorbar(d_diff[i], i, xerr=[[d_diff[i] - d_ci_low[i]], [d_ci_high[i] - d_diff[i]]],
                     fmt='none', ecolor='black', elinewidth=1.8, capsize=8, capthick=1.8, zorder=3)
    d_right.plot(d_diff[i], i, 'o', ms=11.5, color=col, mec='none', zorder=4)
d_right.set_xticks(np.arange(-60, 61, 20))
d_right.set_xticklabels([('\u2212%d' % -v) if v < 0 else '%d' % v for v in np.arange(-60, 61, 20)])
for t in d_right.get_xticklabels():
    t.set_fontproperties(cfp(10))
for yv, pv in zip([601, 624.5, 647.5, 671], d_pvalues):
    ftext(713, yv, pv, fontproperties=cfp(11.3), va='center', ha='left')
ftext(782, 633, 'p-value (corrected)', fontproperties=cfp(11.8), rotation=90, ha='center', va='center')
ftext(517, 559, '95% confidence intervals', fontproperties=cfp(11.7), ha='center', va='center')
ftext(239, 731, 'Mean proportion (%)', fontproperties=cfp(10.5), ha='center', va='center')
ftext(517, 731, 'Difference in mean proportions (%)', fontproperties=cfp(10.5), ha='center', va='center')
frect(177, 553.5, 191, 566, CD_BLUE)
ftext(194, 560, 'CD', fontproperties=cfp(13.5), va='center')
frect(241, 553.5, 255, 566, HSD_OR)
ftext(258, 560, 'HSD', fontproperties=cfp(13.5), va='center')

# ---------------------------------------------------------------- E
e_ax = ax_px(908, 529.5, 1503.7, 837)
e_pos = np.concatenate([np.arange(10), np.arange(10) + 11.3])
e_values = [e_oscillospira, e_bacteroides, e_odoribacter, e_allobaculum, e_helicobacter, e_alistipes,
            e_coprococcus, e_sutterella, e_lactobacillus, e_ruminococcus]
bottom = np.zeros(20)
for vals, col in zip(e_values, genus_colors):
    e_ax.bar(e_pos, vals, width=0.72, bottom=bottom, color=col, lw=0, zorder=2)
    bottom += np.array(vals)
e_ax.set_xlim(-0.76, 20.3 + 0.74)
e_ax.set_ylim(0, 28.8)
e_ax.set_yticks(np.arange(0, 29, 2))
e_ax.set_xticks([4.5, 15.8])
e_ax.set_xticklabels(['CD', 'HSD'])
e_ax.tick_params(axis='x', length=0, pad=9, labelsize=12)
e_ax.tick_params(axis='y', length=3, color='#999999', labelsize=12, pad=2)
for t in e_ax.get_xticklabels() + e_ax.get_yticklabels():
    t.set_family(SANS)
for sp in ['top', 'right']:
    e_ax.spines[sp].set_visible(False)
e_ax.spines['bottom'].set_color('#A0A0A0')
e_ax.spines['bottom'].set_linewidth(1.5)
e_ax.spines['left'].set_color('#C8C8C8')
e_ax.spines['left'].set_linewidth(0.8)
ftext(862, 676, 'Relative Abundance (%)', fontsize=12, family=SANS, ha='center', va='center', rotation=90)
for i, (nm, col) in enumerate(zip(genus_names, genus_colors)):
    yc = 446.7 + i * 17.5
    frect(1490, yc - 7, 1502, yc + 7, col)
    lines = nm.split('\n')
    ftext(1507, yc, lines[0], fontsize=11.5, family=SANS, va='center')
    if len(lines) > 1:
        ftext(1507, yc + 17.5, lines[1], fontsize=11.5, family=SANS, va='center')

# ---------------------------------------------------------------- F
f_left = ax_px(249, 958, 374, 1430)
f_right = ax_px(399.5, 958, 662.6, 1430)
f_rows = np.arange(len(f_taxa))
for axx in (f_left, f_right):
    axx.set_ylim(24.01, -0.573)
    for i in f_rows:
        if i % 2 == 1:
            axx.axhspan(i - 0.48, i + 0.48, color='#E6E6E6', zorder=0, lw=0)
    for sp in ['top', 'right', 'left']:
        axx.spines[sp].set_visible(False)
    axx.spines['bottom'].set_color('#9A9A9A')
    axx.spines['bottom'].set_linewidth(1.4)
    axx.tick_params(axis='x', direction='in', length=5, color='#9A9A9A', width=1.2, pad=6)
f_left.barh(f_rows - 0.225, f_hsd_mean, height=0.45, color=HSD_OR, zorder=2)
f_left.barh(f_rows + 0.225, f_cd_mean, height=0.45, color=CD_BLUE, zorder=2)
f_left.set_xlim(0, 65.9)
f_left.set_xticks([0, 63.2])
f_left.set_xticklabels(['0.0', '63.2'])
f_left.set_yticks(f_rows)
f_left.set_yticklabels(f_taxa)
f_left.tick_params(axis='y', length=0, pad=3)
for t in f_left.get_yticklabels():
    t.set_fontproperties(cfp(8.9))
for t in f_left.get_xticklabels():
    t.set_fontproperties(cfp(10))
f_right.set_xlim(-60, 20)
f_right.set_yticks([])
f_right.axvline(0, color='#333333', lw=0.8, zorder=1)
for i in f_rows:
    col = CD_BLUE if f_diff[i] < 0 else HSD_OR
    f_right.errorbar(f_diff[i], i, xerr=[[f_diff[i] - f_ci_low[i]], [f_ci_high[i] - f_diff[i]]],
                     fmt='none', ecolor='black', elinewidth=1.5, capsize=5, capthick=1.5, zorder=3)
    f_right.plot(f_diff[i], i, 'o', ms=10.5, color=col, mec='none', zorder=4)
f_right.set_xticks(np.arange(-60, 21, 10))
f_right.set_xticklabels([('\u2212%d' % -v) if v < 0 else '%d' % v for v in np.arange(-60, 21, 10)])
for t in f_right.get_xticklabels():
    t.set_fontproperties(cfp(10))
ptrans = blended_transform_factory(f_right.transAxes, f_right.transData)
for i, pv in enumerate(f_pvalues):
    f_right.text(1.02, i, pv, transform=ptrans, fontproperties=cfp(9), va='center', ha='left')
ftext(725, 1193, 'p-value (corrected)', fontproperties=cfp(12), rotation=90, ha='center', va='center')
ftext(537, 943, '95% confidence intervals', fontproperties=cfp(11.8), ha='center', va='center')
ftext(311.5, 1461.7, 'Mean proportion (%)', fontproperties=cfp(11.3), ha='center', va='center')
ftext(531, 1461.7, 'Difference in mean proportions (%)', fontproperties=cfp(11.3), ha='center', va='center')
frect(251, 940, 271, 952.5, CD_BLUE)
ftext(273.5, 946, 'CD', fontproperties=cfp(14), va='center')
frect(315, 940, 334, 952.5, HSD_OR)
ftext(335, 946, 'HSD', fontproperties=cfp(14), va='center')

# ---------------------------------------------------------------- G
G_BLUE, G_RED = '#38489E', '#ED1C24'
G_NODE = {'CD': ('#34449A', '#1E2A70'), 'HSD': ('#E8141B', '#8A0A0E'), None: ('#FFFFFF', '#7F7F7F')}
g_ax = ax_px(773, 971, 1233, 1431)
g_ax.set_xlim(-1.09, 1.09)
g_ax.set_ylim(-1.09, 1.09)
g_ax.axis('off')
LEVEL_R = {0: 0.0, 0.5: 0.145, 1: 0.30, 2: 0.45, 3: 0.60, 4: 0.755, 5: 0.905}
ROOT_RING = 0.175
node_by_id = {n[0]: n for n in clade_nodes}


def has_hl_ancestor(nid):
    p = node_by_id[nid][1]
    while p is not None:
        if node_by_id[p][4] is not None:
            return True
        p = node_by_id[p][1]
    return False


def polar(r, th):
    th = np.radians(th)
    return r * np.cos(th), r * np.sin(th)


for n in sorted([n for n in clade_nodes if n[4] is not None], key=lambda n: n[2]):
    lo, hi = clade_spans[n[0]]
    r_in = LEVEL_R[n[2]] - 0.06
    r_out = 0.94 if has_hl_ancestor(n[0]) else 1.0
    g_ax.add_patch(Wedge((0, 0), r_out, lo, hi, width=r_out - r_in,
                         facecolor=G_BLUE if n[4] == 'CD' else G_RED, alpha=0.42, lw=0, zorder=1))
g_ax.add_patch(Circle((0, 0), ROOT_RING, fill=False, ec='#8C8C8C', lw=0.9, zorder=2))
for n in clade_nodes:
    nid, par, lev, th, grp, lab, size = n
    if par is None:
        continue
    if par == 'root':
        r0 = 0.0 if lev == 0.5 else ROOT_RING
        xs, ys = polar(np.array([r0, LEVEL_R[lev]]), th)
    else:
        pn = node_by_id[par]
        rp, rc = LEVEL_R[pn[2]], LEVEL_R[lev]
        rm = (rp + rc) / 2
        ths = np.linspace(pn[3], th, 40)
        xs, ys = polar(np.concatenate([[rp], np.full(40, rm), [rc]]), np.concatenate([[pn[3]], ths, [th]]))
    g_ax.plot(xs, ys, color='#8C8C8C', lw=0.8, zorder=2)
for n in clade_nodes:
    nid, par, lev, th, grp, lab, size = n
    x, y = polar(LEVEL_R[lev], th)
    fc, ec = G_NODE[grp]
    g_ax.scatter([x], [y], s=size ** 2, facecolor=fc, edgecolor=ec, linewidths=0.6, zorder=4)
    if lab:
        tx, ty = polar(LEVEL_R[lev] + 0.05, th + 2.5)
        g_ax.text(tx, ty, lab, fontsize=7, family=SANS, ha='center', va='center',
                  rotation=th - 90, zorder=5)
frect(1047, 914, 1062, 930, '#3C4A9E')
ftext(1065, 922, 'CD', fontsize=15.5, family=SANS, va='center')
frect(1113, 914, 1128, 930, '#EE1520')
ftext(1131, 922, 'HSD', fontsize=15.5, family=SANS, va='center')
ftext(1007, 1444, 'The current LDA threshold is 2', fontsize=14.5, family=SANS, ha='center', va='center')
GCOL = {'CD': '#3C4A9E', 'HSD': '#EE1520'}
for col_items, col_groups, sx0, sx1, tx in [(lefse_col1, lefse_col1_group, 1231.7, 1250, 1258.3),
                                            (lefse_col2, lefse_col2_group, 1450, 1467.7, 1476.7)]:
    for i, (txt, grp) in enumerate(zip(col_items, col_groups)):
        yc = 956.7 + i * 19.72
        frect(sx0, yc - 8.8, sx1, yc + 8.8, GCOL[grp])
        parts = txt.split('\n')
        if len(parts) == 1:
            ftext(tx, yc, txt, fontsize=12, family=SERIF, style='italic', va='center')
        else:
            ftext(tx - 3.5, yc, parts[0] + '\n            ' + parts[1], fontsize=7.4, family=SERIF,
                  style='italic', va='center', linespacing=0.76)

fig.savefig('out.png', dpi=100, facecolor='white')
